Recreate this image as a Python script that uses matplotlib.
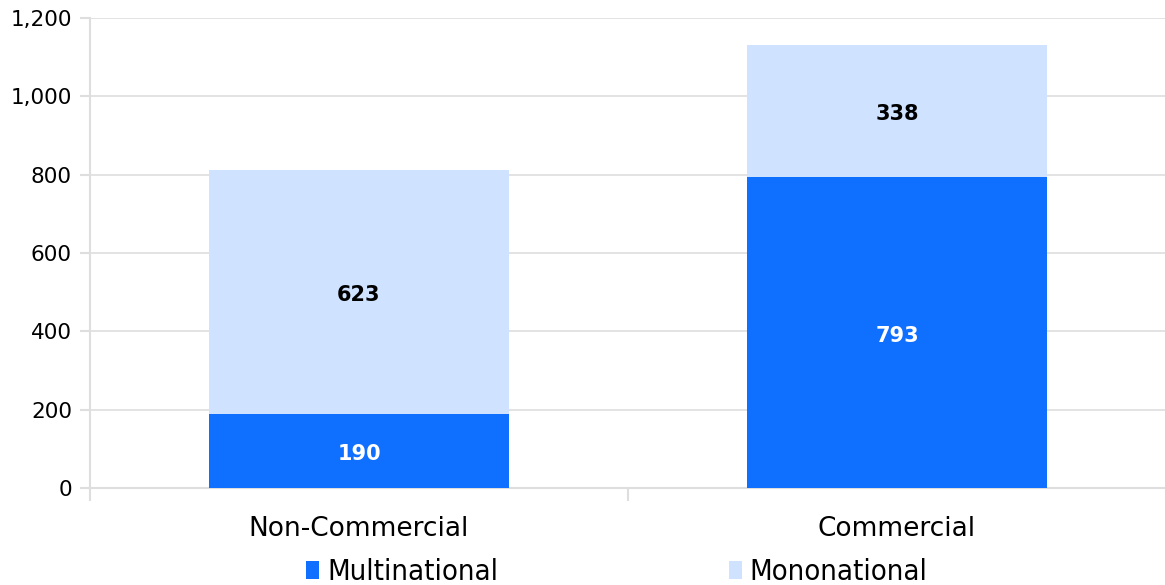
import matplotlib
matplotlib.use("Agg")
import matplotlib.pyplot as plt
from matplotlib.patches import Patch
from matplotlib.ticker import FuncFormatter, FixedLocator

categories = ["Non-Commercial", "Commercial"]
multinational = [190, 793]
mononational = [623, 338]
series_names = ["Multinational", "Mononational"]
colors = ["#0f6fff", "#cfe2ff"]
yticks = [0, 200, 400, 600, 800, 1000, 1200]

plt.rcParams['font.family'] = ['DejaVu Sans']
fig = plt.figure(figsize=(11.65, 5.85), dpi=100)
ax = fig.add_axes([90/1165, 1-488/585, 1076/1165, 470/585])

x = list(range(len(categories)))
w = 0.556
ax.bar(x, multinational, width=w, color=colors[0], zorder=3)
ax.bar(x, mononational, width=w, bottom=multinational, color=colors[1], zorder=3)

for i in x:
    ax.text(i, multinational[i]/2 - 8, str(multinational[i]), ha='center', va='center',
            color='white', fontsize=15, fontweight='bold', zorder=4)
    ax.text(i, multinational[i] + mononational[i]/2 - 8, str(mononational[i]), ha='center', va='center',
            color='black', fontsize=15, fontweight='bold', zorder=4)

ax.set_xlim(-0.5, len(categories)-0.5)
ax.set_ylim(0, 1200)
ax.set_yticks(yticks)
ax.yaxis.set_major_formatter(FuncFormatter(lambda v, p: f"{int(v):,}"))
ax.set_xticks(x)
ax.set_xticklabels(categories, fontsize=19)
ax.xaxis.set_minor_locator(FixedLocator([-0.5 + k for k in range(len(categories)+1)]))
ax.tick_params(axis='x', which='major', length=0, pad=20)
ax.tick_params(axis='x', which='minor', length=9, color='#dedede', width=1.5)
ax.tick_params(axis='y', length=7, color='#dedede', width=1.5, labelsize=15.5, pad=6)
ax.grid(axis='y', color='#dedede', linewidth=1.2, zorder=0)
for s in ['top', 'right']:
    ax.spines[s].set_visible(False)
ax.spines['left'].set_color('#dedede')
ax.spines['left'].set_linewidth(1.5)
ax.spines['bottom'].set_color('#dedede')
ax.spines['bottom'].set_linewidth(1.5)

handles = [Patch(facecolor=c, edgecolor='none') for c in colors]
fig.legend(handles, series_names, loc='lower center', bbox_to_anchor=(0.5296, -0.047),
           ncol=2, frameon=False, handlelength=0.45, handleheight=0.6,
           handletextpad=0.27, columnspacing=7.9,
           prop={'size': 21, 'stretch': 'condensed'})

fig.savefig("out.png", dpi=100)
